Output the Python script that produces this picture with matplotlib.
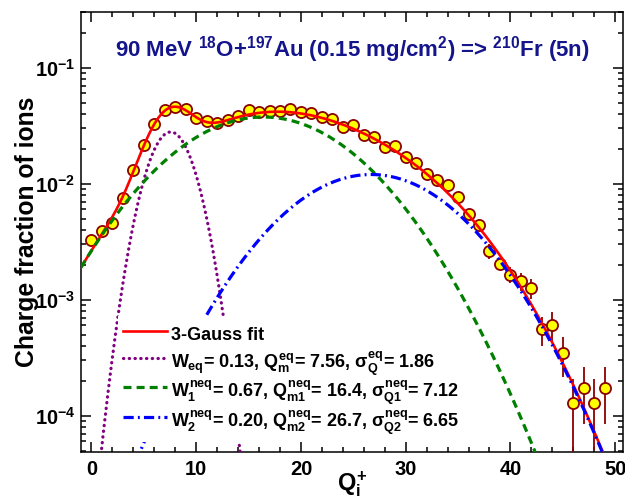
import matplotlib
matplotlib.use('Agg')
import matplotlib.pyplot as plt
import numpy as np
from matplotlib.ticker import LogLocator, MultipleLocator, NullFormatter

plt.rcParams['font.family'] = ['Liberation Sans', 'DejaVu Sans']
plt.rcParams['font.weight'] = 'bold'
plt.rcParams['axes.labelweight'] = 'bold'
plt.rcParams['mathtext.fontset'] = 'custom'
plt.rcParams['mathtext.rm'] = 'Liberation Sans:bold'
plt.rcParams['mathtext.it'] = 'Liberation Sans:bold'
plt.rcParams['mathtext.bf'] = 'Liberation Sans:bold'
plt.rcParams['mathtext.sf'] = 'Liberation Sans:bold'

# charge states and measured fractions
charge_state = list(range(50))
fraction = [3.29e-3, 3.88e-3, 4.58e-3, 7.46e-3, 1.32e-2, 2.17e-2, 3.27e-2, 4.29e-2, 4.58e-2, 4.44e-2,
            3.68e-2, 3.49e-2, 3.33e-2, 3.56e-2, 3.85e-2, 4.29e-2, 4.12e-2, 4.26e-2, 4.26e-2, 4.40e-2,
            4.12e-2, 4.07e-2, 3.76e-2, 3.63e-2, 3.05e-2, 3.23e-2, 2.64e-2, 2.53e-2, 2.07e-2, 2.13e-2,
            1.69e-2, 1.51e-2, 1.20e-2, 1.08e-2, 9.66e-3, 7.62e-3, 5.51e-3, 4.43e-3, 2.64e-3, 2.04e-3,
            1.64e-3, 1.44e-3, 1.26e-3, 5.58e-4, 6.08e-4, 3.47e-4, 1.29e-4, 1.73e-4, 1.29e-4, 1.73e-4]
fraction_err = [1.5e-4, 1.5e-4, 1.8e-4, 2.5e-4, 4e-4, 6e-4, 8e-4, 1e-3, 1e-3, 1e-3,
                9e-4, 9e-4, 9e-4, 9e-4, 9e-4, 9e-4, 9e-4, 9e-4, 9e-4, 9e-4,
                9e-4, 9e-4, 9e-4, 9e-4, 8e-4, 8e-4, 8e-4, 8e-4, 8e-4, 8e-4,
                6e-4, 6e-4, 6e-4, 6e-4, 5e-4, 4.5e-4, 4e-4, 4e-4, 4e-4, 2.4e-4,
                2.6e-4, 2.5e-4, 2.5e-4, 1.55e-4, 1.75e-4, 1.3e-4, 0.8e-4, 0.88e-4, 0.78e-4, 0.88e-4]

# fit parameters (eq, neq1, neq2)
weights = [0.13, 0.67, 0.20]
centroids = [7.56, 16.4, 26.7]
widths = [1.86, 7.12, 6.65]
labels = [r'$W_{eq}$= 0.13, $Q_{m}^{eq}$= 7.56, $\sigma_{Q}^{eq}$= 1.86',
          r'$W_{1}^{neq}$= 0.67, $Q_{m1}^{neq}$= 16.4, $\sigma_{Q1}^{neq}$= 7.12',
          r'$W_{2}^{neq}$= 0.20, $Q_{m2}^{neq}$= 26.7, $\sigma_{Q2}^{neq}$= 6.65']
colors = ['#800080', '#008000', '#0000ff']
styles = [(0, (0.1, 1.7)), (0, (2.5, 1.6)), (0, (3.2, 1.3, 0.6, 1.3))]
caps = ['round', 'butt', 'butt']


def gauss(q, w, m, s):
    return w / (np.sqrt(2 * np.pi) * s) * np.exp(-(q - m) ** 2 / (2 * s ** 2))


fig = plt.figure(figsize=(6.25, 4.99), dpi=100)
ax = fig.add_axes([0.1296, 0.0948, 0.8672, 0.8806])

ax.errorbar(charge_state, fraction, yerr=fraction_err, fmt='o', ms=8,
            mfc='#ffff00', mec='#8b0000', mew=1.3, ecolor='#8b0000',
            elinewidth=1.3, capsize=0, zorder=3)

q = np.linspace(-1, 51, 1500)
total = sum(gauss(q, w, m, s) for w, m, s in zip(weights, centroids, widths))
ax.plot(q, total, color='#ff0000', lw=1.9, label='3-Gauss fit', zorder=4)
for w, m, s, lab, c, ls, cap in zip(weights, centroids, widths, labels, colors, styles, caps):
    ax.plot(q, gauss(q, w, m, s), color=c, lw=2.3, ls=ls,
            dash_capstyle=cap, label=lab, zorder=5)

ax.set_yscale('log')
ax.set_xlim(-1, 50.75)
ax.set_ylim(4.9e-5, 0.30)

ax.xaxis.set_major_locator(MultipleLocator(10))
ax.xaxis.set_minor_locator(MultipleLocator(2))
ax.yaxis.set_major_locator(LogLocator(base=10))
ax.yaxis.set_minor_locator(LogLocator(base=10, subs=np.arange(2, 10)))
ax.yaxis.set_minor_formatter(NullFormatter())
ax.tick_params(which='both', direction='in', top=True, right=True, width=1.1, labelsize=14.5)
ax.tick_params(which='major', length=7)
ax.tick_params(which='minor', length=3.6)
ax.tick_params(axis='x', pad=6)
ax.tick_params(axis='y', pad=4)
for sp in ax.spines.values():
    sp.set_linewidth(1.1)

ax.set_ylabel('Charge fraction of ions', fontsize=17.8, labelpad=-3)
ax.set_xlabel(r'$Q_{i}^{+}$', fontsize=17, labelpad=-7)

ax.text(0.5, 0.915, r'90 MeV $^{18}$O+$^{197}$Au (0.15 mg/cm$^{2}$) => $^{210}$Fr (5n)',
        transform=ax.transAxes, ha='center', va='center', color='#14148c', fontsize=16)

leg = ax.legend(loc='lower left', bbox_to_anchor=(0.068, 0.022), fontsize=13,
                frameon=True, fancybox=False, framealpha=1, edgecolor='none',
                handlelength=2.4, handleheight=1.95, handletextpad=0.25, labelspacing=0.0,
                borderpad=0.3, borderaxespad=0)
leg.set_zorder(6)

plt.savefig('out.png', dpi=100, facecolor='white')
